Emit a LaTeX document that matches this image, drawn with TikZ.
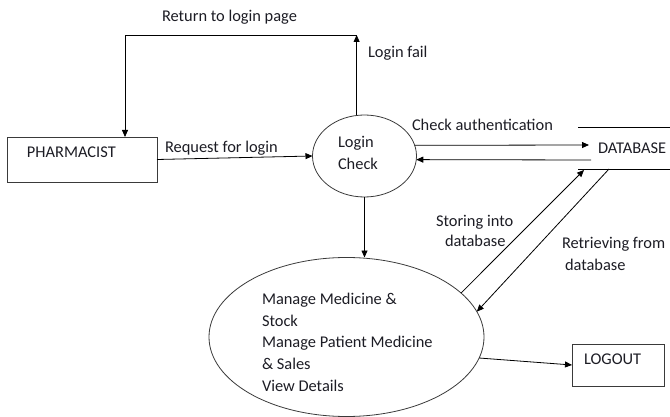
\documentclass[tikz,border=0pt]{standalone}
\usepackage{fontspec}
\setmainfont{Carlito}
\usetikzlibrary{shapes.geometric,arrows.meta,calc}
\definecolor{ink}{HTML}{1C1C24}
\definecolor{edge}{HTML}{3A3A3A}
\begin{document}
\begin{tikzpicture}[x=1pt,y=-1pt,
  every node/.style={inner sep=0pt,outer sep=0pt},
  txt/.style={font=\fontsize{16.4}{18}\selectfont,text=ink,anchor=base west},
  entity/.style={draw=edge,line width=0.8pt,rectangle},
  process/.style={draw=edge,line width=0.8pt,ellipse},
  flow/.style={line width=0.8pt,draw=black,-{Triangle[length=7pt,width=6pt]}},
  plain/.style={line width=0.8pt,draw=black}]
\useasboundingbox (0,0) rectangle (670,417);

% external entities
\node[entity,minimum width=150pt,minimum height=45pt] (pharm) at (82,159.5) {};
\node[txt] (pharmt) at (27,158) {PHARMACIST};
\node[entity,minimum width=92pt,minimum height=42pt] (logout) at (618,365) {};
\node[txt] (logoutt) at (584,364) {LOGOUT};

% processes
\node[process,minimum width=104pt,minimum height=82pt] (login) at (364.5,156) {};
\node[txt] (logint1) at (338,148) {Login};
\node[txt] (logint2) at (338,170) {Check};
\node[process,minimum width=275pt,minimum height=159pt] (big) at (346.5,337) {};
\node[txt] (bt1) at (262,304) {Manage Medicine \&};
\node[txt] (bt2) at (262,326) {Stock};
\node[txt] (bt3) at (262,347) {Manage Patient Medicine};
\node[txt] (bt4) at (262,369) {\& Sales};
\node[txt] (bt5) at (262,391) {View Details};

% data store
\node[minimum width=92pt,minimum height=42pt] (db) at (624,148) {};
\node[txt] (dbt) at (598,154) {DATABASE};
\draw[plain] (db.north west) -- (db.north east);
\draw[plain] (db.south west) -- (db.south east);
\coordinate (dbin) at (589,145);
\coordinate (dbout) at (591,160);
\coordinate (dbstore) at (584,170);
\coordinate (dbread) at (609,169);

% return loop
\coordinate (rt) at (356,35);
\coordinate (lt) at (125,35);

% flows
\draw[flow] (login.101) -- (login.101 |- rt);
\draw[flow] (login.101 |- rt) -- (lt) -- (lt |- pharm.north);
\draw[flow] (pharm.east) -- (login.west);
\draw[flow] (login.12) -- (dbin);
\draw[flow] (dbout) -- (login.-4.4);
\draw[flow] (login.south) -- (login.south |- big.north);
\draw[flow] (big.21.5) -- (dbstore);
\draw[flow] (dbread) -- (big.11.5);
\draw[flow] (big.-9.3) -- (logout.west);

% flow labels
\node[txt] (l1) at (162,22) {Return to login page};
\node[txt] (l2) at (368,58) {Login fail};
\node[txt] (l3) at (165,153) {Request for login};
\node[txt] (l4) at (412,131) {Check authentication};
\node[txt] (l5) at (436,226) {Storing into};
\node[txt] (l6) at (445,247) {database};
\node[txt] (l7) at (562,248) {Retrieving from};
\node[txt] (l8) at (565,270) {database};
\end{tikzpicture}
\end{document}
